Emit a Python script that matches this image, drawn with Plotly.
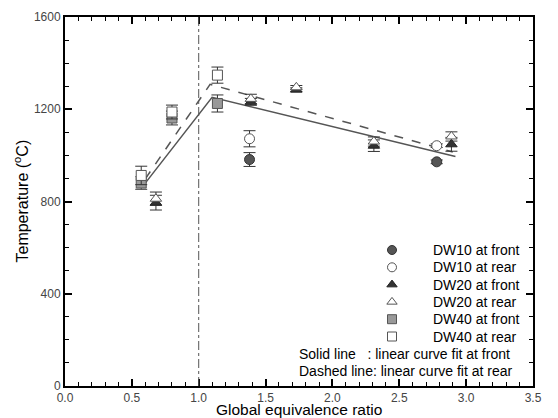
import plotly.graph_objects as go

# ---- data ----
dw10_x = [1.38, 2.78]
dw10_front = [982, 972]
dw10_front_err = [30, 8]
dw10_rear = [1072, 1042]
dw10_rear_err = [35, 8]

dw20_x = [0.68, 1.39, 1.73, 2.31, 2.89]
dw20_front = [795, 1232, 1285, 1042, 1048]
dw20_front_err = [32, 15, 8, 25, 30]
dw20_rear = [812, 1245, 1295, 1060, 1082]
dw20_rear_err = [29, 20, 8, 20, 20]

dw40_x = [0.57, 0.80, 1.14]
dw40_front = [880, 1162, 1225]
dw40_front_err = [27, 30, 37]
dw40_rear = [913, 1188, 1348]
dw40_rear_err = [40, 30, 35]

fit_front_x = [0.59, 1.10, 2.92]
fit_front_y = [872, 1252, 995]
fit_rear_x = [0.60, 1.085, 2.90]
fit_rear_y = [898, 1308, 1015]

stoich = 1.0

x_ticks = [0.0, 0.5, 1.0, 1.5, 2.0, 2.5, 3.0, 3.5]
y_ticks = [0, 400, 800, 1200, 1600]

legend_names = ["DW10 at front", "DW10 at rear", "DW20 at front",
                "DW20 at rear", "DW40 at front", "DW40 at rear"]
note_lines = ["Solid line\u00a0\u00a0\u00a0: linear curve fit at front",
              "Dashed line: linear curve fit at rear"]
x_title = "Global equivalence ratio"
y_title = "Temperature (<sup>o</sup>C)"

FONT = "Arial, Liberation Sans, sans-serif"

# layout constants (pixels)
W, H = 558, 418
ML, MR, MT, MB = 65, 25, 17, 32
PW, PH = W - ML - MR, H - MT - MB

def px_x(p):
    return (p - ML) / PW

def px_y(p):
    return (H - MB - p) / PH

LEG_SYM_X = px_x(392)
LEG_TXT_X = px_x(431)
LEG_Y0, LEG_DY = 250, 17.3
NOTE_X = px_x(297)

fig = go.Figure()

styles = [
    ("circle", "#555555", "#333333"),
    ("circle", "white", "#555555"),
    ("triangle-up", "#333333", "#222222"),
    ("triangle-up", "white", "#555555"),
    ("square", "#999999", "#555555"),
    ("square", "white", "#555555"),
]
series = [
    (dw10_x, dw10_front, dw10_front_err),
    (dw10_x, dw10_rear, dw10_rear_err),
    (dw20_x, dw20_front, dw20_front_err),
    (dw20_x, dw20_rear, dw20_rear_err),
    (dw40_x, dw40_front, dw40_front_err),
    (dw40_x, dw40_rear, dw40_rear_err),
]

fig.add_trace(go.Scatter(x=fit_front_x, y=fit_front_y, mode="lines", showlegend=False,
                         line=dict(color="#555555", width=1.5)))
fig.add_trace(go.Scatter(x=fit_rear_x, y=fit_rear_y, mode="lines", showlegend=False,
                         line=dict(color="#555555", width=1.5, dash="dash")))

for name, (x, y, err), (sym, fill, line) in zip(legend_names, series, styles):
    fig.add_trace(go.Scatter(
        x=x, y=y, mode="markers", name=name, showlegend=False,
        marker=dict(symbol=sym, size=10, color=fill, line=dict(color=line, width=1)),
        error_y=dict(type="data", array=err, visible=True,
                     color="#333333", thickness=1, width=6),
    ))

# manual legend (symbols on an overlay axis spanning the plot area in 0..1)
for i, (name, (sym, fill, line)) in enumerate(zip(legend_names, styles)):
    yy = px_y(LEG_Y0 + i * LEG_DY)
    fig.add_trace(go.Scatter(
        x=[LEG_SYM_X], y=[yy], xaxis="x2", yaxis="y2", mode="markers",
        showlegend=False, hoverinfo="skip",
        marker=dict(symbol=sym, size=9, color=fill, line=dict(color=line, width=1)),
    ))
    fig.add_annotation(xref="paper", yref="paper", x=LEG_TXT_X, y=yy,
                       xanchor="left", yanchor="middle", text=name, showarrow=False,
                       font=dict(family=FONT, size=14, color="black"))

for j, txt in enumerate(note_lines):
    fig.add_annotation(xref="paper", yref="paper", x=NOTE_X,
                       y=px_y(LEG_Y0 + (6 + j) * LEG_DY),
                       xanchor="left", yanchor="middle", text=txt, showarrow=False,
                       font=dict(family=FONT, size=14, color="black"))

# axis titles as annotations for exact placement
fig.add_annotation(xref="paper", yref="paper", x=0.5, y=px_y(409.5),
                   xanchor="center", yanchor="middle", text=x_title, showarrow=False,
                   borderpad=0, font=dict(family=FONT, size=15.5, color="black"))
fig.add_annotation(xref="paper", yref="paper", x=px_x(21), y=0.5, textangle=-90,
                   xanchor="center", yanchor="middle", text=y_title, showarrow=False,
                   font=dict(family=FONT, size=16, color="black"))

fig.add_vline(x=stoich, line=dict(color="#555555", width=1, dash="dashdot"))

axis_common = dict(
    showline=True, linecolor="black", linewidth=2, mirror="ticks",
    ticks="inside", ticklen=7, tickwidth=1.5, tickcolor="black",
    showgrid=False, zeroline=False, automargin=False,
    tickfont=dict(family=FONT, size=12, color="#444444"),
)

fig.update_xaxes(
    range=[0, 3.5], tickvals=x_ticks, ticktext=[f"{v:.1f}" for v in x_ticks],
    minor=dict(dtick=0.1, ticks="inside", ticklen=4, tickcolor="black", tickwidth=1),
    **axis_common,
)
fig.update_yaxes(
    range=[0, 1600], tickvals=y_ticks,
    minor=dict(dtick=100, ticks="inside", ticklen=4, tickcolor="black", tickwidth=1),
    **axis_common,
)

fig.update_layout(
    width=W, height=H,
    margin=dict(l=ML, r=MR, t=MT, b=MB),
    paper_bgcolor="white", plot_bgcolor="white",
    font=dict(family=FONT, size=14, color="black"),
    showlegend=False,
    xaxis2=dict(overlaying="x", range=[0, 1], visible=False, fixedrange=True),
    yaxis2=dict(overlaying="y", range=[0, 1], visible=False, fixedrange=True),
)

fig.write_html("out.html")
